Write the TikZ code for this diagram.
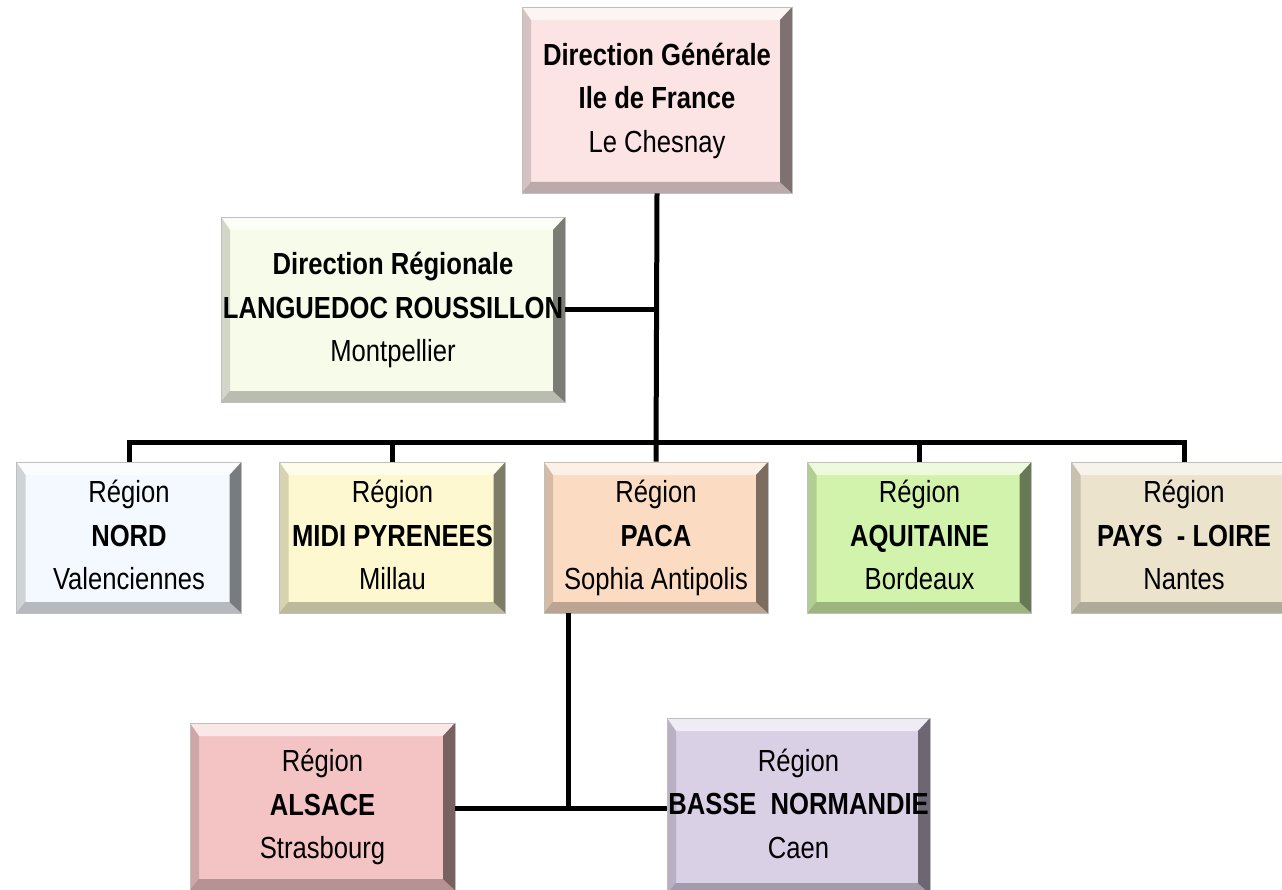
\documentclass[tikz,border=0pt]{standalone}
\usepackage{fontspec}
\setmainfont{Liberation Sans}[FakeStretch=0.84]
\definecolor{cDG}{RGB}{252,228,228}
\definecolor{cDR}{RGB}{247,251,234}
\definecolor{cNORD}{RGB}{243,249,254}
\definecolor{cMIDI}{RGB}{253,248,207}
\definecolor{cPACA}{RGB}{251,220,195}
\definecolor{cAQUI}{RGB}{210,243,172}
\definecolor{cPAYS}{RGB}{235,227,204}
\definecolor{cALS}{RGB}{244,196,197}
\definecolor{cBN}{RGB}{218,208,230}
\newcommand{\lines}[3]{\strut#1\\#2\\#3\strut}
\tikzset{
  bevelbox/.style={
    rectangle, inner sep=0pt, align=center, text=black,
    font=\fontsize{30.5}{43.5}\selectfont,
    draw=black!25, line width=0.6pt,
    path picture={
      \fill[white,opacity=0.6]
        (path picture bounding box.north west) -- (path picture bounding box.north east)
        -- ([xshift=-12pt,yshift=-13pt]path picture bounding box.north east)
        -- ([xshift=9pt,yshift=-13pt]path picture bounding box.north west) -- cycle;
      \fill[black,opacity=0.5]
        (path picture bounding box.north east) -- (path picture bounding box.south east)
        -- ([xshift=-12pt,yshift=11pt]path picture bounding box.south east)
        -- ([xshift=-12pt,yshift=-13pt]path picture bounding box.north east) -- cycle;
      \fill[black,opacity=0.25]
        (path picture bounding box.south east) -- (path picture bounding box.south west)
        -- ([xshift=9pt,yshift=11pt]path picture bounding box.south west)
        -- ([xshift=-12pt,yshift=11pt]path picture bounding box.south east) -- cycle;
      \fill[black,opacity=0.15]
        (path picture bounding box.south west) -- (path picture bounding box.north west)
        -- ([xshift=9pt,yshift=-13pt]path picture bounding box.north west)
        -- ([xshift=9pt,yshift=11pt]path picture bounding box.south west) -- cycle;
    }},
  link/.style={line width=5pt, black, line join=miter, line cap=butt}
}
\begin{document}
\begin{tikzpicture}[x=1pt,y=-1pt]
\clip (0,0) rectangle (1282,890);
\fill[white] (0,0) rectangle (1282,890);
% nodes
\node[bevelbox, fill=cDG, minimum width=270pt, minimum height=186pt] (DG) at (657,100)
  {\lines{\textbf{Direction Générale}}{\textbf{Ile de France}}{Le Chesnay}};
\node[bevelbox, fill=cDR, minimum width=344pt, minimum height=185pt] (DR) at (393,309.5)
  {\lines{\textbf{Direction Régionale}}{\textbf{LANGUEDOC ROUSSILLON}}{Montpellier}};
\node[bevelbox, fill=cNORD, minimum width=225pt, minimum height=151pt] (NORD) at (129,537.5)
  {\lines{Région}{\textbf{NORD}}{Valenciennes}};
\node[bevelbox, fill=cMIDI, minimum width=226pt, minimum height=151pt] (MIDI) at (392.5,537.5)
  {\lines{Région}{\textbf{MIDI PYRENEES}}{Millau}};
\node[bevelbox, fill=cPACA, minimum width=224pt, minimum height=151pt] (PACA) at (656,537.5)
  {\lines{Région}{\textbf{PACA}}{Sophia Antipolis}};
\node[bevelbox, fill=cAQUI, minimum width=224pt, minimum height=151pt] (AQUI) at (919.5,537.5)
  {\lines{Région}{\textbf{AQUITAINE}}{Bordeaux}};
\node[bevelbox, fill=cPAYS, minimum width=225pt, minimum height=151pt] (PAYS) at (1184,537.5)
  {\lines{Région}{\textbf{PAYS\ \ - LOIRE}}{Nantes}};
\node[bevelbox, fill=cALS, minimum width=265pt, minimum height=167pt] (ALS) at (322.5,806.5)
  {\lines{Région}{\textbf{ALSACE}}{Strasbourg}};
\node[bevelbox, fill=cBN, minimum width=263pt, minimum height=176pt] (BN) at (798.5,806)
  {\lines{Région}{\textbf{BASSE\ \ NORMANDIE}}{Caen}};
% connectors
\coordinate (bus) at (656,442);
\coordinate (pj) at (568,808);
\draw[link] (DG.south) -- (PACA.north);
\draw[link] (DR.east) -- (DG.south |- DR.east);
\draw[link] (NORD.north) -- (NORD.north |- bus) -- (PAYS.north |- bus) -- (PAYS.north);
\draw[link] (MIDI.north) -- (MIDI.north |- bus);
\draw[link] (AQUI.north) -- (AQUI.north |- bus);
\draw[link] (pj |- PACA.south) -- (pj);
\draw[link] (ALS.east |- pj) -- (BN.west |- pj);
\end{tikzpicture}
\end{document}
